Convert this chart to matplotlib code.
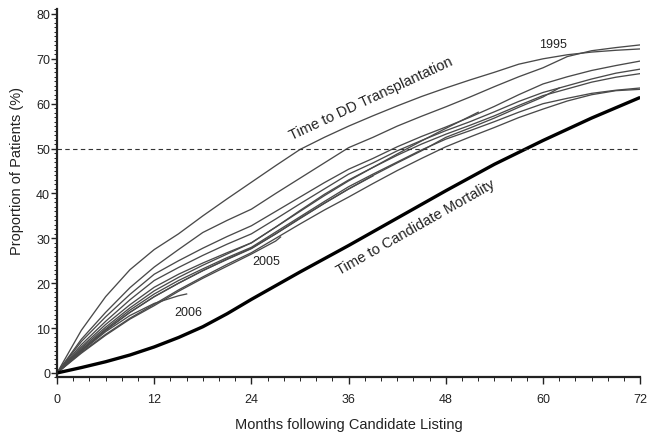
import matplotlib
matplotlib.use("Agg")
import matplotlib.pyplot as plt
from matplotlib.ticker import MultipleLocator

plt.rcParams['font.family'] = ['Liberation Sans', 'DejaVu Sans']

months = list(range(0, 73, 3))

# Time to deceased-donor transplantation, by listing year (%)
transplant = {
    "1995": [0, 9.5, 17, 23, 27.5, 31, 35, 38.8, 42.5, 46.2, 49.8, 52.5, 55, 57.3, 59.5,
             61.6, 63.5, 65.3, 67, 68.8, 70, 70.9, 71.5, 71.9, 72.2],
    "1996": [0, 7.5, 13.5, 19, 23.6, 27.5, 31.3, 34, 36.5, 40, 43.4, 46.8, 50.2, 52.5, 55,
             57.2, 59.3, 61.5, 63.8, 66, 68, 70.5, 71.8, 72.5, 73.1],
    "1997": [0, 7, 12.5, 17.5, 22, 25, 27.8, 30.4, 32.8, 36, 39.2, 42.4, 45.4, 47.8, 50.4,
             52.7, 54.8, 57, 59.4, 62, 64.4, 66, 67.4, 68.5, 69.5],
    "1998": [0, 6.3, 11.5, 16.3, 20.6, 23.5, 26.2, 28.7, 31, 34.3, 37.7, 41, 44.3, 46.8, 49.5,
             51.8, 54, 56, 58.2, 60.5, 62.5, 64, 65.5, 66.8, 67.7],
    "1999": [0, 5.8, 10.8, 15.2, 19.1, 22, 24.5, 26.8, 29, 32.5, 36.2, 39.8, 43, 45.8, 48.5,
             51, 53.2, 55.2, 57.3, 59.6, 61.8, 63.3, 64.8, 65.9, 66.7],
    "2000": [0, 5.2, 9.8, 14, 17.6, 20.6, 23.2, 25.7, 28, 31.4, 34.8, 38.2, 41.5, 44.3, 47,
             49.7, 52.1, 54, 56, 58.1, 60, 61.2, 62.3, 63, 63.5],
    "2001": [0, 4.6, 8.6, 12.2, 15.3, 18.5, 21.4, 24.2, 26.8, 30, 33.2, 36.3, 39.2, 42.2, 45.1,
             47.8, 50.4, 52.6, 54.7, 56.9, 58.8, 60.6, 62, 62.9, 63.2],
}
transplant_partial = {
    "2002": ([0, 3, 6, 9, 12, 15, 18, 21, 24, 27, 30, 33, 36, 39, 42, 45, 48, 51, 54, 57, 60, 62],
             [0, 5, 9.5, 13.5, 17, 20, 22.8, 25.3, 27.7, 31, 34.4, 37.8, 41, 44, 46.8, 49.5,
              52.5, 54.6, 56.8, 59.2, 61.5, 63.5]),
    "2003": ([0, 3, 6, 9, 12, 15, 18, 21, 24, 27, 30, 33, 36, 39, 42, 45, 48, 51, 52],
             [0, 5.5, 10.2, 14.5, 18.3, 21.3, 24, 26.5, 29, 32.5, 36, 39.5, 42.8, 45.8, 48.8,
              51.7, 54.5, 57.2, 58.1]),
    "2004": ([0, 3, 6, 9, 12, 15, 18, 21, 24, 27, 30, 33, 36, 39],
             [0, 5, 9.5, 13.5, 17, 20, 22.8, 25.4, 27.8, 31, 34.5, 37.8, 41, 43.9]),
    "2005": ([0, 3, 6, 9, 12, 15, 18, 21, 24, 27, 27.6],
             [0, 4.4, 8.4, 12, 15, 18.2, 21.1, 23.8, 26.5, 29.4, 30.3]),
    "2006": ([0, 3, 6, 9, 12, 15, 16],
             [0, 4.8, 9.2, 12.8, 15.5, 17.2, 17.6]),
}

# Time to candidate mortality (%)
mort_months = [0, 3, 6, 9, 12, 15, 18, 21, 24, 30, 36, 42, 48, 54, 60, 66, 72]
mortality = [0, 1.2, 2.5, 4.0, 5.8, 7.9, 10.3, 13.2, 16.4, 22.5, 28.4, 34.5, 40.6, 46.5,
             51.8, 56.8, 61.4]

x_ticks = [0, 12, 24, 36, 48, 60, 72]
y_ticks = [0, 10, 20, 30, 40, 50, 60, 70, 80]

fig = plt.figure(figsize=(6.48, 4.35), dpi=100)
ax = fig.add_axes([0.088, 0.13, 0.900, 0.846])

thin = dict(color='#4a4a4a', lw=0.95)
for yr, vals in transplant.items():
    ax.plot(months, vals, **thin)
for yr, (mx, vals) in transplant_partial.items():
    ax.plot(mx, vals, **thin)
ax.plot(mort_months, mortality, color='black', lw=2.4, solid_capstyle='butt')

ax.axhline(50, color='#333333', lw=0.8, ls=(0, (4, 3)))

ax.set_xlim(0, 72)
ax.set_ylim(-1, 81)
ax.set_xticks(x_ticks)
ax.set_yticks(y_ticks)
ax.xaxis.set_minor_locator(MultipleLocator(2))
ax.yaxis.set_minor_locator(MultipleLocator(1))
ax.tick_params(axis='both', which='major', labelsize=9, color='#222222', width=1,
               labelcolor='#222222')
ax.tick_params(axis='x', which='major', length=5, pad=6)
ax.tick_params(axis='y', which='major', length=4, pad=1)
ax.tick_params(axis='x', which='minor', length=3)
ax.tick_params(axis='y', which='minor', length=2)
for s in ['top', 'right']:
    ax.spines[s].set_visible(False)
for s in ['left', 'bottom']:
    ax.spines[s].set_linewidth(1.6)
    ax.spines[s].set_color('#222222')

ax.set_xlabel('Months following Candidate Listing', fontsize=10.5, color='#222222', labelpad=9)
ax.set_ylabel('Proportion of Patients (%)', fontsize=10.5, color='#222222')
ax.yaxis.set_label_coords(-0.056, 0.5625)

ax.text(38.7, 61.2, 'Time to DD Transplantation', rotation=25, fontsize=10.5,
        ha='center', va='center', color='#222222', rotation_mode='anchor')
ax.text(44.3, 32.5, 'Time to Candidate Mortality', rotation=29.5, fontsize=10.5,
        ha='center', va='center', color='#222222', rotation_mode='anchor')
ax.text(61.2, 73.3, '1995', fontsize=9, ha='center', va='center', color='#222222')
ax.text(25.8, 25.0, '2005', fontsize=9, ha='center', va='center', color='#222222')
ax.text(16.2, 13.6, '2006', fontsize=9, ha='center', va='center', color='#222222')

fig.savefig('out.png', dpi=100)
